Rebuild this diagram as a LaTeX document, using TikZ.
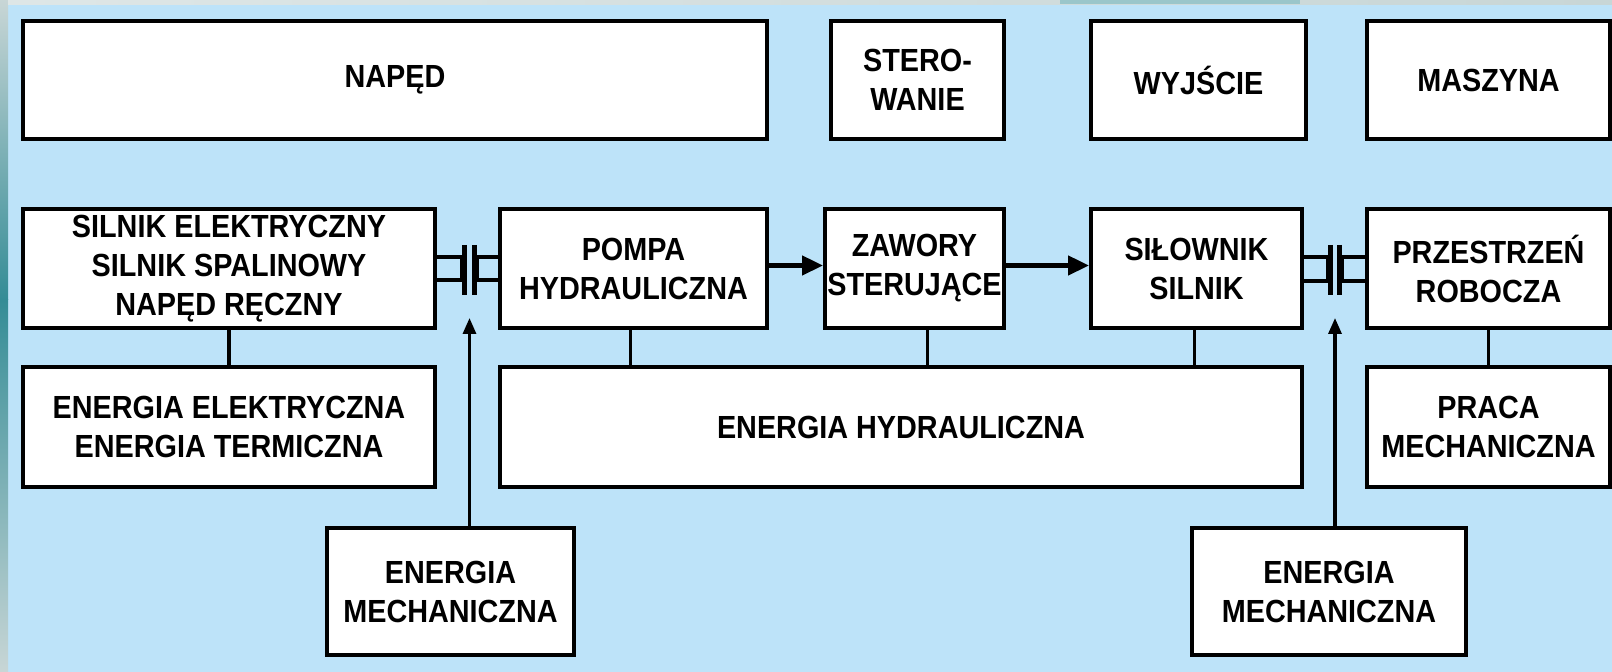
\documentclass[tikz,border=0pt]{standalone}
\usepackage{fontspec}
\setmainfont{Liberation Sans}[FakeStretch=0.9]
\usetikzlibrary{arrows.meta}
\definecolor{bgblue}{RGB}{189,227,249}
\definecolor{edgeteal}{RGB}{52,140,150}
\definecolor{edgegray}{RGB}{200,214,214}
\newcommand\blk[6]{\node[box, minimum width={(#4-#2)*0.5pt}, minimum height={(#5-#3)*0.5pt}] (#1) at ({(#2+#4)/2},{(#3+#5)/2}) {#6};}
\begin{document}
\begin{tikzpicture}[x=0.5pt,y=-0.5pt,
  box/.style={draw=black, line width=2pt, fill=white, align=center,
    font=\bfseries\fontsize{16}{19.5}\selectfont, inner sep=0pt},
  link/.style={draw=black, line width=1.6pt},
  plate/.style={draw=black, line width=2.5pt},
  flow/.style={draw=black, line width=2.3pt, -{Triangle[length=10.5pt,width=9.5pt]}},
  feed/.style={draw=black, line width=1.6pt, -{Triangle[length=8pt,width=6.5pt]}}]
\useasboundingbox (0,0) rectangle (1612,672);
% background
\fill[bgblue] (0,0) rectangle (1612,672);
\shade[top color=edgegray, bottom color=edgeteal] (0,0) rectangle (8,300);
\shade[top color=edgeteal, bottom color=edgegray] (0,300) rectangle (8,672);
\shade[left color=edgegray!60, right color=edgegray] (8,0) rectangle (1612,5);
\fill[edgeteal!50] (1060,0) rectangle (1300,4);
% top row
\blk{naped}{23}{21}{767}{139}{NAPĘD}
\blk{ster}{831}{21}{1004}{139}{STERO-\\WANIE}
\blk{wyj}{1091}{21}{1306}{139}{WYJŚCIE}
\blk{masz}{1367}{21}{1610}{139}{MASZYNA}
% second row
\blk{siln}{23}{209}{435}{328}{SILNIK ELEKTRYCZNY\\SILNIK SPALINOWY\\NAPĘD RĘCZNY}
\blk{pompa}{500}{209}{767}{328}{POMPA\\HYDRAULICZNA}
\blk{zaw}{825}{209}{1004}{328}{ZAWORY\\STERUJĄCE}
\blk{silow}{1091}{209}{1302}{328}{SIŁOWNIK\\SILNIK}
\blk{przes}{1367}{209}{1610}{328}{PRZESTRZEŃ\\ROBOCZA}
% third row
\blk{enel}{23}{367}{435}{487}{ENERGIA ELEKTRYCZNA\\ENERGIA TERMICZNA}
\blk{ehyd}{500}{367}{1302}{487}{ENERGIA HYDRAULICZNA}
\blk{praca}{1367}{367}{1610}{487}{PRACA\\MECHANICZNA}
% bottom row
\blk{emA}{327}{528}{574}{655}{ENERGIA\\MECHANICZNA}
\blk{emB}{1192}{528}{1466}{655}{ENERGIA\\MECHANICZNA}
% couplings
\coordinate (c1) at (469.5,318);
\coordinate (c2) at (1335,318);
\draw[link] (435,257) rectangle (462,280);
\draw[link] (477,257) rectangle (500,280);
\draw[plate] (464.5,245) -- (464.5,295);
\draw[plate] (474.5,245) -- (474.5,295);
\draw[link] (1302,257) rectangle (1328,281);
\draw[link] (1342,257) rectangle (1367,281);
\draw[plate] (1330.5,245) -- (1330.5,295);
\draw[plate] (1339.5,245) -- (1339.5,295);
% flow arrows
\draw[flow] ([yshift=1.5pt]pompa.east) -- ([yshift=1.5pt]zaw.west);
\draw[flow] ([yshift=1.5pt]zaw.east) -- ([yshift=1.5pt]silow.west);
% energy feeds
\draw[feed] (emA.north -| c1) -- (c1);
\draw[feed] (emB.north -| c2) -- (c2);
% vertical links
\draw[link] (siln.south) -- (enel.north);
\draw[link] ([xshift=-1.5pt]pompa.south) -- ([xshift=-1.5pt]pompa.south |- ehyd.north);
\draw[link] ([xshift=6.5pt]zaw.south) -- ([xshift=6.5pt]zaw.south |- ehyd.north);
\draw[link] ([xshift=-1pt]silow.south) -- ([xshift=-1pt]silow.south |- ehyd.north);
\draw[link] (przes.south) -- (praca.north);
\end{tikzpicture}
\end{document}
